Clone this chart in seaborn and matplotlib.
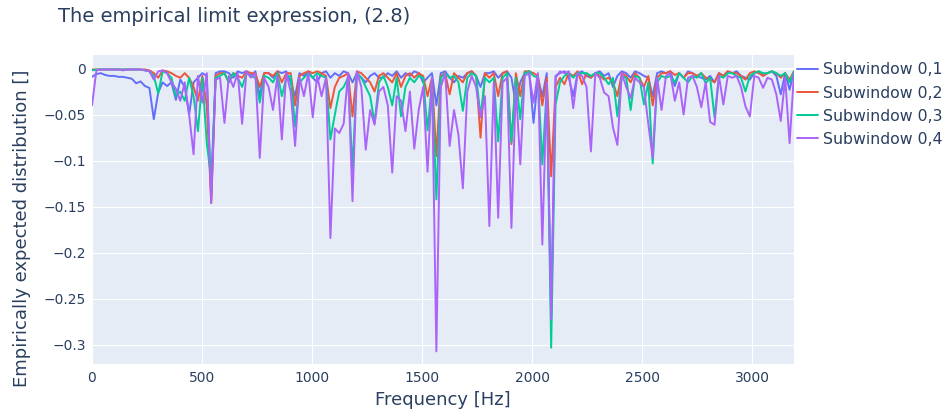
import numpy as np
import pandas as pd
import matplotlib
matplotlib.use("Agg")
import matplotlib.pyplot as plt
import seaborn as sns

# Frequency bins (Hz) shared by all subwindows
freq_max = 3190
n_bins = 160

series_names = ["Subwindow 0,1", "Subwindow 0,2", "Subwindow 0,3", "Subwindow 0,4"]

# Depth below zero of the limit expression, in thousandths, one value per bin
sub01 = [
    9, 6, 5, 7, 8, 8, 9, 9, 10, 11,
    16, 14, 19, 21, 55, 26, 15, 19, 15, 34,
    12, 20, 50, 15, 10, 5, 8, 140, 5, 3,
    3, 5, 10, 3, 5, 3, 8, 3, 30, 5,
    5, 10, 3, 5, 3, 15, 30, 5, 8, 3,
    10, 15, 5, 3, 10, 5, 8, 3, 5, 15,
    5, 10, 15, 8, 5, 10, 10, 5, 8, 3,
    10, 5, 8, 3, 5, 15, 10, 5, 40, 5,
    3, 10, 15, 8, 10, 5, 3, 8, 20, 5,
    5, 3, 10, 5, 3, 10, 39, 15, 5, 3,
    59, 10, 30, 5, 270, 8, 5, 3, 10, 30,
    5, 3, 8, 10, 5, 3, 8, 5, 20, 8,
    3, 5, 10, 3, 5, 8, 10, 30, 5, 3,
    5, 3, 19, 5, 10, 3, 5, 8, 10, 12,
    8, 15, 5, 8, 3, 5, 3, 8, 10, 12,
    5, 3, 8, 5, 3, 8, 28, 5, 23, 3,
]
sub02 = [
    1, 1, 1, 1, 1, 1, 1, 1, 1, 1,
    1, 1, 1, 2, 5, 10, 2, 3, 5, 8,
    10, 5, 10, 20, 35, 8, 40, 146, 8, 5,
    5, 15, 5, 8, 10, 3, 5, 5, 20, 5,
    5, 8, 3, 15, 5, 5, 40, 8, 5, 3,
    5, 3, 5, 8, 43, 20, 10, 8, 5, 52,
    3, 5, 10, 15, 25, 8, 5, 10, 15, 5,
    20, 8, 5, 10, 5, 8, 30, 10, 95, 8,
    5, 28, 5, 10, 15, 5, 3, 8, 75, 5,
    10, 5, 30, 5, 3, 82, 5, 30, 3, 3,
    5, 8, 40, 10, 117, 20, 10, 17, 5, 8,
    3, 17, 5, 10, 5, 8, 12, 10, 15, 30,
    5, 8, 15, 5, 10, 20, 8, 40, 10, 5,
    5, 3, 7, 5, 10, 5, 5, 8, 5, 10,
    12, 15, 5, 8, 3, 5, 5, 8, 12, 5,
    3, 5, 8, 5, 3, 5, 10, 5, 12, 3,
]
sub03 = [
    2, 1, 1, 1, 1, 1, 1, 1, 1, 1,
    1, 1, 2, 3, 8, 27, 3, 5, 10, 30,
    25, 35, 10, 30, 68, 10, 81, 120, 10, 8,
    5, 15, 5, 10, 20, 5, 8, 10, 37, 8,
    10, 15, 5, 30, 10, 8, 63, 15, 10, 5,
    10, 5, 8, 10, 77, 50, 25, 20, 10, 110,
    5, 10, 20, 30, 59, 15, 8, 20, 40, 10,
    52, 20, 10, 15, 8, 10, 67, 15, 142, 10,
    5, 10, 8, 15, 46, 10, 5, 8, 52, 10,
    15, 10, 79, 10, 5, 80, 10, 55, 5, 3,
    8, 10, 104, 20, 303, 39, 15, 8, 5, 10,
    5, 5, 5, 8, 5, 5, 10, 17, 10, 52,
    8, 10, 45, 8, 10, 39, 15, 103, 15, 8,
    10, 8, 15, 5, 10, 15, 8, 10, 5, 16,
    10, 53, 8, 10, 5, 5, 8, 10, 25, 8,
    5, 3, 5, 5, 3, 5, 8, 5, 15, 3,
]
sub04 = [
    40, 2, 1, 1, 1, 1, 1, 2, 1, 1,
    1, 1, 2, 3, 12, 3, 2, 5, 15, 22,
    35, 15, 50, 93, 8, 37, 5, 146, 12, 10,
    59, 8, 20, 5, 60, 3, 10, 5, 97, 10,
    20, 45, 8, 77, 5, 25, 84, 10, 30, 5,
    53, 8, 30, 10, 184, 65, 70, 60, 5, 144,
    3, 20, 88, 45, 61, 25, 20, 40, 113, 30,
    35, 68, 25, 87, 45, 20, 112, 10, 307, 20,
    5, 84, 45, 72, 130, 25, 8, 20, 53, 30,
    171, 15, 162, 15, 10, 173, 20, 104, 8, 5,
    37, 5, 191, 15, 272, 10, 3, 5, 3, 43,
    5, 8, 20, 90, 5, 10, 26, 30, 64, 83,
    5, 20, 32, 10, 15, 20, 60, 97, 10, 45,
    8, 5, 35, 15, 50, 10, 8, 20, 42, 15,
    58, 61, 8, 39, 8, 10, 8, 20, 41, 52,
    8, 10, 21, 10, 12, 28, 57, 10, 81, 5,
]

colors = ["#636EFA", "#EF553B", "#00CC96", "#AB63FA"]
x_ticks = [0, 500, 1000, 1500, 2000, 2500, 3000]
y_ticks = [0, -0.05, -0.1, -0.15, -0.2, -0.25, -0.3]
y_tick_labels = ["0", "\u22120.05", "\u22120.1", "\u22120.15", "\u22120.2", "\u22120.25", "\u22120.3"]

freq = np.linspace(0, freq_max, n_bins)
frames = []
for name, depth in zip(series_names, [sub01, sub02, sub03, sub04]):
    frames.append(pd.DataFrame({
        "Frequency": freq,
        "Value": -np.asarray(depth, dtype=float) / 1000.0,
        "Series": name,
    }))
df = pd.concat(frames, ignore_index=True)

sns.set_style("darkgrid", {
    "axes.facecolor": "#E5ECF6",
    "grid.color": "white",
    "axes.edgecolor": "none",
})
plt.rcParams["font.family"] = ["DejaVu Sans"]
text_color = "#2a3f5f"

fig = plt.figure(figsize=(9.49, 4.16), dpi=100)
ax = fig.add_axes([92 / 949, 1 - 364 / 416, 702 / 949, 309 / 416])

ax.axhline(0, color="white", lw=1.6, zorder=1)
ax.axvline(0, color="white", lw=1.6, zorder=1)

sns.lineplot(data=df, x="Frequency", y="Value", hue="Series",
             palette=colors, linewidth=1.4, estimator=None, ax=ax, zorder=3)

ax.set_xlim(0, freq_max)
ax.set_ylim(-0.3207, 0.0147)
ax.set_xticks(x_ticks)
ax.set_xticklabels([str(v) for v in x_ticks])
ax.set_yticks(y_ticks)
ax.set_yticklabels(y_tick_labels)
ax.grid(True, color="white", lw=0.8)
ax.tick_params(axis="both", length=0, labelsize=10, labelcolor=text_color)
ax.tick_params(axis="y", pad=4.5)
ax.tick_params(axis="x", pad=5)
for s in ax.spines.values():
    s.set_visible(False)

ax.set_xlabel("Frequency [Hz]", fontsize=13, color=text_color)
ax.set_ylabel("Empirically expected distribution []", fontsize=13, color=text_color)
ax.xaxis.label.set_va("center")
ax.yaxis.label.set_va("center")
ax.xaxis.set_label_coords(0.5, -(400 - 364) / 309)
ax.yaxis.set_label_coords((22 - 92) / 702, (364 - 228) / 309)

handles, labels = ax.get_legend_handles_labels()
ax.legend(handles, labels, loc="upper left",
          bbox_to_anchor=(797 / 949, 1 - 62.5 / 416), bbox_transform=fig.transFigure,
          frameon=False, fontsize=11.3, labelcolor=text_color,
          handlelength=1.35, handletextpad=0.3, labelspacing=0.51,
          borderaxespad=0, borderpad=0)

fig.text(58 / 949, 1 - 17 / 416, "The empirical limit expression, (2.8)",
         fontsize=14, color=text_color, ha="left", va="center")

fig.savefig("out.png", dpi=100)
